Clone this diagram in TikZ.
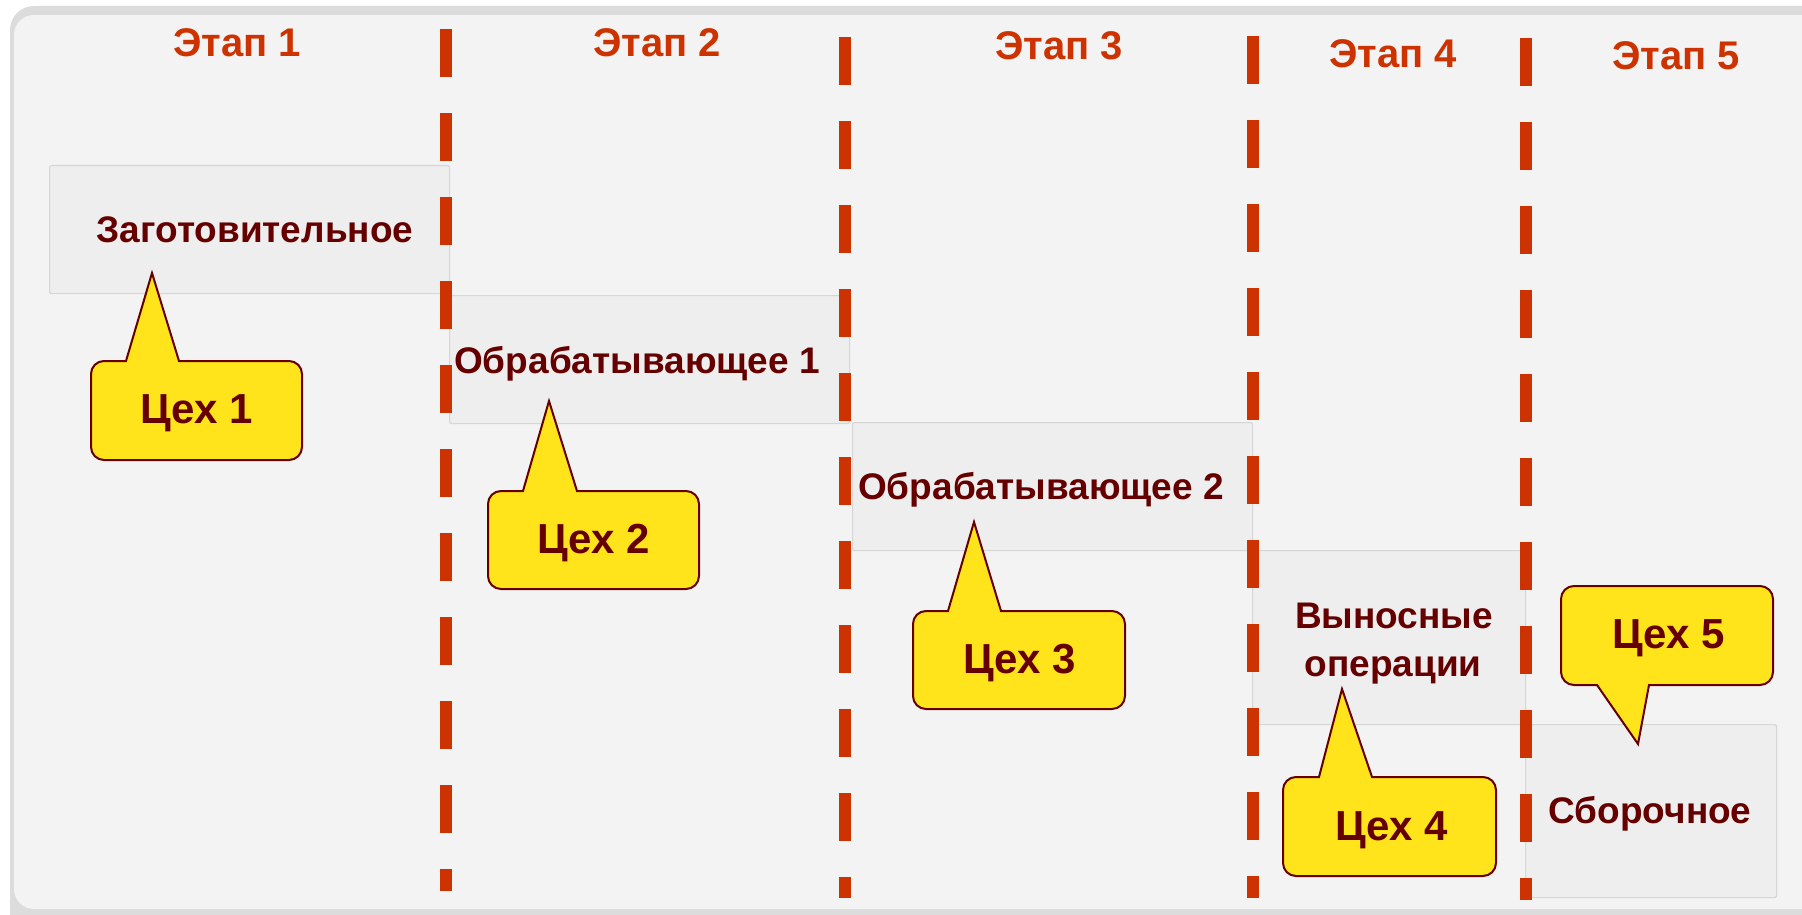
\documentclass[tikz,border=0pt]{standalone}
\usepackage{fontspec}
\setmainfont{Liberation Sans}
\definecolor{stage}{HTML}{CC3300}
\definecolor{maroon}{HTML}{660000}
\definecolor{cyellow}{HTML}{FFE41B}
\definecolor{panelbg}{HTML}{F3F3F3}
\definecolor{panelrim}{HTML}{DCDCDC}
\definecolor{boxfill}{HTML}{EEEEEE}
\definecolor{boxline}{HTML}{D6D6D6}
\newcommand{\calloutup}[8]{%
  \draw[calloutshape] (#5,-#2) -- (#7,-#8) -- (#6,-#2) -- ({#3-13},-#2)
    arc[start angle=90,end angle=0,radius=13] -- (#3,{-#4+13})
    arc[start angle=0,end angle=-90,radius=13] -- ({#1+13},-#4)
    arc[start angle=270,end angle=180,radius=13] -- (#1,{-#2-13})
    arc[start angle=180,end angle=90,radius=13] -- cycle;}
\newcommand{\calloutdown}[8]{%
  \draw[calloutshape] ({#1+13},-#2) -- ({#3-13},-#2)
    arc[start angle=90,end angle=0,radius=13] -- (#3,{-#4+13})
    arc[start angle=0,end angle=-90,radius=13] -- (#6,-#4) -- (#7,-#8) -- (#5,-#4) -- ({#1+13},-#4)
    arc[start angle=270,end angle=180,radius=13] -- (#1,{-#2-13})
    arc[start angle=180,end angle=90,radius=13] -- cycle;}
\begin{document}
\begin{tikzpicture}[x=1pt,y=1pt,
  stagelbl/.style={text=stage,font=\bfseries\fontsize{40}{48}\selectfont,anchor=base,inner sep=0},
  boxtxt/.style={text=maroon,font=\bfseries\fontsize{37}{44}\selectfont,anchor=base,inner sep=0},
  cehtxt/.style={text=maroon,font=\bfseries\fontsize{42}{50}\selectfont,anchor=base,inner sep=0},
  stagebox/.style={draw=boxline,fill=boxfill,line width=1.2pt,rounded corners=2pt,inner sep=0,anchor=north west},
  sepline/.style={draw=stage,line width=12pt,dash pattern=on 48pt off 36pt},
  calloutshape/.style={draw=maroon,fill=cyellow,line width=2pt,line join=miter}]
\clip (0,0) rectangle (1802,-915);
% panel
\fill[white] (0,0) rectangle (1802,-915);
\fill[panelrim,rounded corners=24pt] (10,-6) rectangle (1880,-940);
\fill[panelbg,rounded corners=20pt] (14,-15) rectangle (1880,-909);
% stage boxes
\node[stagebox,minimum width=400pt,minimum height=128pt] (b1) at (49,-165) {};
\node[stagebox,minimum width=400pt,minimum height=128pt] (b2) at (449,-295) {};
\node[stagebox,minimum width=400pt,minimum height=128pt] (b3) at (852,-422) {};
\node[stagebox,minimum width=273pt,minimum height=174pt] (b4) at (1252,-550) {};
\node[stagebox,minimum width=251pt,minimum height=173pt] (b5) at (1525,-724) {};
\node[boxtxt] (t1) at (255,-242) {Заготовительное};
\node[boxtxt] (t2) at (637,-373) {Обрабатывающее 1};
\node[boxtxt] (t3) at (1041,-499) {Обрабатывающее 2};
\node[boxtxt] (t4a) at (1394,-628) {Выносные};
\node[boxtxt] (t4b) at (1393,-676) {операции};
\node[boxtxt] (t5) at (1650,-823) {Сборочное};
% separators
\coordinate (d1t) at (446,-29);  \coordinate (d1b) at (446,-891);
\coordinate (d2t) at (845,-37);  \coordinate (d2b) at (845,-898);
\coordinate (d3t) at (1253,-36); \coordinate (d3b) at (1253,-898);
\coordinate (d4t) at (1526,-38); \coordinate (d4b) at (1526,-900);
\draw[sepline] (d1t) -- (d1b);
\draw[sepline] (d2t) -- (d2b);
\draw[sepline] (d3t) -- (d3b);
\draw[sepline] (d4t) -- (d4b);
% stage labels
\node[stagelbl] (s1) at (237,-57) {Этап 1};
\node[stagelbl] (s2) at (657,-57) {Этап 2};
\node[stagelbl] (s3) at (1059,-60) {Этап 3};
\node[stagelbl] (s4) at (1393,-68) {Этап 4};
\node[stagelbl] (s5) at (1676,-70) {Этап 5};
% callouts
\calloutup{91}{361}{302}{460}{126}{179}{152}{273}
\node[cehtxt] (c1) at (196.5,-423) {Цех 1};
\calloutup{488}{491}{699}{589}{523}{577}{549}{401}
\node[cehtxt] (c2) at (593.5,-553) {Цех 2};
\calloutup{913}{611}{1125}{709}{948}{1001}{974}{522}
\node[cehtxt] (c3) at (1020,-673) {Цех 3};
\calloutup{1283}{777}{1496}{876}{1319}{1372}{1342}{689}
\node[cehtxt] (c4) at (1392,-840) {Цех 4};
\calloutdown{1561}{586}{1773}{685}{1597}{1649}{1638}{744}
\node[cehtxt] (c5) at (1669,-648) {Цех 5};
\end{tikzpicture}
\end{document}
